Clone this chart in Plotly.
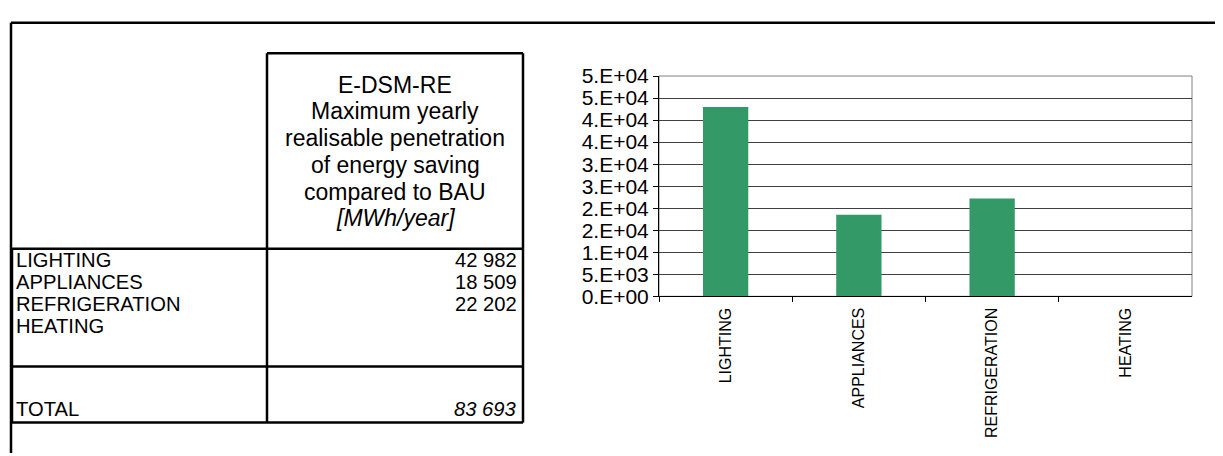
"""Energy saving table plus bar chart, redrawn with plotly."""
import plotly.graph_objects as go

W, H = 1223, 456
PAGE_MARGIN = 8  # default body margin of the html page

# data
categories = ['LIGHTING', 'APPLIANCES', 'REFRIGERATION', 'HEATING']
savings = [42982, 18509, 22202, None]
total_saving = 83693
header_lines = ['E-DSM-RE', 'Maximum yearly', 'realisable penetration',
                'of energy saving', 'compared to BAU', '<i>[MWh/year]</i>']
y_tick_values = [0, 5000, 10000, 15000, 20000, 25000, 30000, 35000, 40000, 45000, 50000]
y_tick_labels = ['0.E+00', '5.E+03', '1.E+04', '2.E+04', '2.E+04', '3.E+04',
                 '3.E+04', '4.E+04', '4.E+04', '5.E+04', '5.E+04']

FONT = 'Liberation Sans, Arial, sans-serif'
BAR_GREEN = '#339966'
HEADER_FONT_SIZE = 23
ROW_FONT_SIZE = 20.2


def px_x(x):
    """page pixel -> paper coordinate"""
    return (x - PAGE_MARGIN) / W


def px_y(y):
    return 1 - (y - PAGE_MARGIN) / H


def fmt_number(v):
    """Excel style thousands with a space"""
    return f'{v:,}'.replace(',', ' ')


def line(x0, y0, x1, y1, width=2.5):
    return dict(type='line', xref='paper', yref='paper',
                x0=px_x(x0), y0=px_y(y0), x1=px_x(x1), y1=px_y(y1),
                line=dict(color='black', width=width))


def text(label, x, y, anchor='left', italic=False, size=ROW_FONT_SIZE):
    if italic:
        label = f'<i>{label}</i>'
    return dict(text=label, xref='paper', yref='paper', x=px_x(x), y=px_y(y),
                xanchor=anchor, yanchor='middle', showarrow=False,
                font=dict(family=FONT, size=size, color='black'))


def get_table_parts():
    """Borders and text of the table on the left"""
    shapes = [
        # outer frame
        line(11, 11, W + PAGE_MARGIN, 11), line(11, 11, 11, H + PAGE_MARGIN),
        # header cell
        line(267, 43, 523, 43), line(267, 43, 267, 249), line(523, 43, 523, 249),
        # body
        line(12, 249, 523, 249), line(12, 249, 12, 432), line(523, 249, 523, 432),
        line(267, 249, 267, 432),
        line(12, 373, 523, 373), line(12, 432, 523, 432),
    ]

    annotations = []
    header_mid, header_step = 146.5, 28.2
    first = header_mid - header_step * (len(header_lines) - 1) / 2
    for i, h in enumerate(header_lines):
        annotations.append(text(h, 395, first + i * header_step, anchor='center',
                                size=HEADER_FONT_SIZE))

    row_top, row_step = 261, 23
    for i, (cat, val) in enumerate(zip(categories, savings)):
        y = row_top + i * row_step
        annotations.append(text(cat, 14, y))
        if val is not None:
            annotations.append(text(fmt_number(val), 519, y, anchor='right'))

    annotations.append(text('TOTAL', 14, 418))
    annotations.append(text(fmt_number(total_saving), 519, 418, anchor='right', italic=True))
    return shapes, annotations


def get_bar_chart():
    fig = go.Figure(go.Bar(x=categories, y=savings, marker_color=BAR_GREEN,
                           marker_line_width=0))

    fig.update_xaxes(domain=[px_x(659), px_x(1192)],
                     showline=True, linecolor='black', linewidth=1,
                     ticks='outside', tickson='boundaries', ticklen=5,
                     tickcolor='black', tickangle=-90, ticklabelstandoff=4,
                     tickfont=dict(family=FONT, size=16, color='black'),
                     showgrid=False)
    fig.update_yaxes(domain=[px_y(299), px_y(67)], range=[0, 50000],
                     tickvals=y_tick_values, ticktext=y_tick_labels,
                     showline=True, linecolor='black', linewidth=1,
                     ticks='outside', ticklen=5, tickcolor='black',
                     tickfont=dict(family=FONT, size=21, color='black'),
                     showgrid=True, gridcolor='#404040', gridwidth=1,
                     zeroline=False)
    return fig


fig = get_bar_chart()
shapes, annotations = get_table_parts()

# plot area border (top and right)
shapes.append(dict(type='rect', xref='x domain', yref='y domain',
                   x0=0, y0=0, x1=1, y1=1, layer='below',
                   line=dict(color='#808080', width=1)))

fig.update_layout(width=W, height=H, margin=dict(l=0, r=0, t=0, b=0),
                  paper_bgcolor='white', plot_bgcolor='white',
                  bargap=0.66, showlegend=False,
                  shapes=shapes, annotations=annotations)

fig.write_html('out.html')
